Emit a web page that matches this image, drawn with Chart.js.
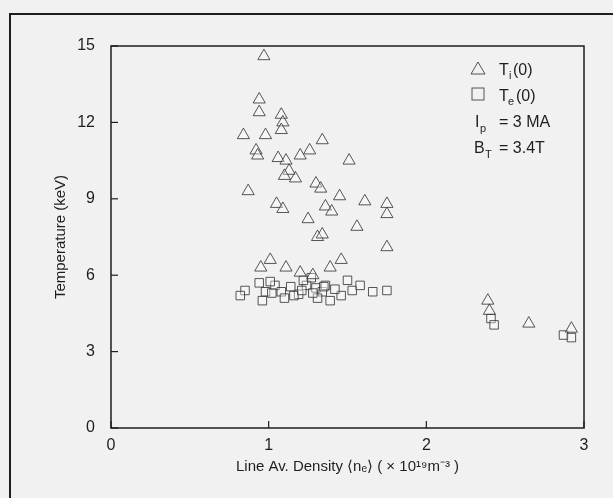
<!DOCTYPE html>
<html>
<head>
<meta charset="utf-8">
<script src="https://cdn.jsdelivr.net/npm/chart.js@4"></script>
<style>
    body { margin: 0; background: #f1f1f1; overflow: hidden; }
    #frame { position: absolute; left: 9px; top: 13px; width: 700px; height: 600px; border: 2px solid #1e1e1e; box-sizing: border-box; }
    #wrap { position: absolute; left: 0; top: 0; width: 613px; height: 498px; }
</style>
</head>
<body>
<div id="frame"></div>
<div id="wrap"><canvas id="tempChart" width="613" height="498"></canvas></div>
<script>
// Ion temperature Ti(0) vs line averaged density
const tiDensity = [0.97, 0.94, 0.94, 1.08, 1.09, 0.84, 0.98, 1.08, 1.34, 0.92, 0.93, 1.06, 1.11, 1.20, 1.26, 1.51,
    1.13, 1.17, 1.10, 1.30, 0.87, 1.33, 1.45, 1.05, 1.09, 1.36, 1.40, 1.61, 1.75, 1.75, 1.25, 1.56, 1.31, 1.34,
    1.75, 1.01, 1.46, 0.95, 1.11, 1.39, 1.20, 1.28, 2.39, 2.40, 2.65, 2.92];
const tiTemp = [14.6, 12.9, 12.4, 12.3, 12.0, 11.5, 11.5, 11.7, 11.3, 10.9, 10.7, 10.6, 10.5, 10.7, 10.9, 10.5,
    10.1, 9.8, 9.9, 9.6, 9.3, 9.4, 9.1, 8.8, 8.6, 8.7, 8.5, 8.9, 8.8, 8.4, 8.2, 7.9, 7.5, 7.6,
    7.1, 6.6, 6.6, 6.3, 6.3, 6.3, 6.1, 6.0, 5.0, 4.6, 4.1, 3.9];

// Electron temperature Te(0)
const teDensity = [0.85, 0.94, 0.98, 1.04, 1.08, 1.14, 1.19, 1.24, 1.30, 1.34, 1.39, 1.46, 1.53, 1.58, 1.66, 1.75,
    0.82, 1.01, 1.27, 1.50, 0.96, 1.31, 1.10, 1.22, 1.36, 1.02, 1.16, 1.28, 1.35, 1.42, 1.21,
    2.41, 2.43, 2.87, 2.92];
const teTemp = [5.4, 5.7, 5.35, 5.6, 5.35, 5.55, 5.25, 5.6, 5.5, 5.35, 5.0, 5.2, 5.4, 5.6, 5.35, 5.4,
    5.2, 5.75, 5.9, 5.8, 5.0, 5.1, 5.1, 5.8, 5.6, 5.3, 5.2, 5.3, 5.55, 5.45, 5.4,
    4.3, 4.05, 3.65, 3.55];

const xTicks = [0, 1, 2, 3];
const yTicks = [0, 3, 6, 9, 12, 15];

const ink = '#1e1e1e';
const pointInk = 'rgba(45,45,45,0.8)';

function toPoints(xs, ys) {
    return xs.map((x, i) => ({ x: x, y: ys[i] }));
}

// Plot box, inward ticks and the in-plot legend
const framePlugin = {
    id: 'framePlugin',
    afterDraw(chart) {
        const ctx = chart.ctx;
        const area = chart.chartArea;
        const xs = chart.scales.x;
        const ys = chart.scales.y;
        ctx.save();
        ctx.strokeStyle = ink;
        ctx.lineWidth = 1.5;
        ctx.strokeRect(area.left, area.top, area.right - area.left, area.bottom - area.top);

        ctx.lineWidth = 1.2;
        xTicks.forEach(v => {
            const px = xs.getPixelForValue(v);
            ctx.beginPath();
            ctx.moveTo(px, area.bottom);
            ctx.lineTo(px, area.bottom - 7);
            ctx.stroke();
        });
        yTicks.forEach(v => {
            const py = ys.getPixelForValue(v);
            ctx.beginPath();
            ctx.moveTo(area.left, py);
            ctx.lineTo(area.left + 7, py);
            ctx.stroke();
        });

        // legend
        ctx.strokeStyle = pointInk;
        ctx.lineWidth = 1;
        ctx.beginPath();
        ctx.moveTo(478, 62);
        ctx.lineTo(485, 74);
        ctx.lineTo(471, 74);
        ctx.closePath();
        ctx.stroke();
        ctx.strokeRect(472, 88, 12, 12);

        ctx.fillStyle = ink;
        ctx.textBaseline = 'alphabetic';
        ctx.font = '16px "Liberation Sans", Arial, sans-serif';
        ctx.fillText('T', 499, 75);
        ctx.fillText('(0)', 513, 75);
        ctx.fillText('T', 499, 101);
        ctx.fillText('(0)', 516, 101);
        ctx.fillText('I', 475, 127);
        ctx.fillText('= 3 MA', 499, 127);
        ctx.fillText('B', 474, 153);
        ctx.fillText('= 3.4T', 499, 153);
        ctx.font = '11px "Liberation Sans", Arial, sans-serif';
        ctx.fillText('i', 509, 79);
        ctx.fillText('e', 508, 105);
        ctx.fillText('p', 480, 132);
        ctx.fillText('T', 485, 158);
        ctx.restore();
    }
};

new Chart(document.getElementById('tempChart').getContext('2d'), {
    type: 'scatter',
    data: {
        datasets: [
            {
                label: 'Ti(0)',
                data: toPoints(tiDensity, tiTemp),
                pointStyle: 'triangle',
                pointRadius: 7,
                borderColor: pointInk,
                backgroundColor: 'rgba(255,255,255,0.35)',
                borderWidth: 1
            },
            {
                label: 'Te(0)',
                data: toPoints(teDensity, teTemp),
                pointStyle: 'rect',
                pointRadius: 6,
                borderColor: pointInk,
                backgroundColor: 'rgba(255,255,255,0.35)',
                borderWidth: 1
            }
        ]
    },
    options: {
        responsive: false,
        animation: false,
        layout: { padding: { top: 46, right: 29, left: 52, bottom: 22 } },
        plugins: {
            legend: { display: false },
            tooltip: { enabled: false }
        },
        scales: {
            x: {
                type: 'linear',
                min: 0,
                max: 3,
                afterBuildTicks: scale => { scale.ticks = xTicks.map(v => ({ value: v })); },
                afterFit: scale => { scale.height = 48; },
                grid: { display: false },
                border: { display: false },
                ticks: {
                    color: ink,
                    padding: 0,
                    font: { size: 16, family: '"Liberation Sans", Arial, sans-serif' }
                },
                title: {
                    display: true,
                    text: 'Line Av. Density \u27E8n\u2091\u27E9 ( \u00D7 10\u00B9\u2079m\u207B\u00B3 )',
                    color: ink,
                    padding: 0,
                    font: { size: 15, family: '"Liberation Sans", Arial, sans-serif' }
                }
            },
            y: {
                type: 'linear',
                min: 0,
                max: 15,
                afterBuildTicks: scale => { scale.ticks = yTicks.map(v => ({ value: v })); },
                afterFit: scale => { scale.width = 59; },
                grid: { display: false },
                border: { display: false },
                ticks: {
                    color: ink,
                    padding: 8,
                    font: { size: 16, family: '"Liberation Sans", Arial, sans-serif' }
                },
                title: {
                    display: true,
                    text: 'Temperature (keV)',
                    color: ink,
                    padding: 0,
                    font: { size: 15, family: '"Liberation Sans", Arial, sans-serif' }
                }
            }
        }
    },
    plugins: [framePlugin]
});
</script>
</body>
</html>
